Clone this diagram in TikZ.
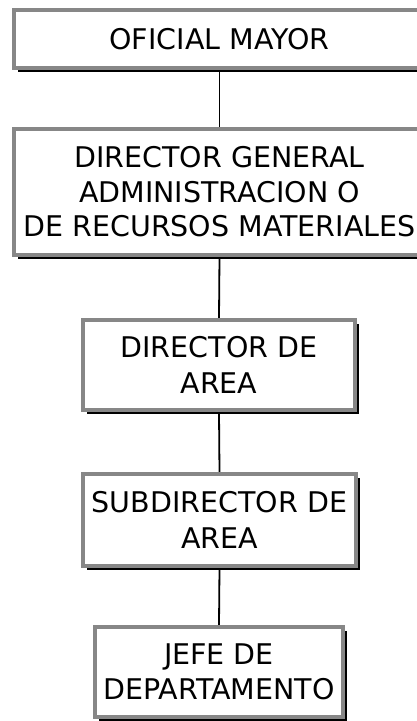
\documentclass[tikz,border=0pt]{standalone}
\usepackage{fontspec}
\setmainfont{DejaVu Sans}
\usetikzlibrary{shadows,backgrounds}
\definecolor{boxgray}{HTML}{878787}
\tikzset{
  orgbox/.style={draw=boxgray, line width=4pt, fill=white, inner sep=0pt,
    align=center, font=\fontsize{28.5}{34.5}\selectfont,
    general shadow={fill=black, shadow xshift=3.5pt, shadow yshift=-4pt}},
  link/.style={draw=black, line width=1.8pt}
}
\begin{document}
\begin{tikzpicture}[x=1pt,y=-1pt]
\useasboundingbox (0,0) rectangle (417,721);
\node[orgbox, minimum width=411pt, minimum height=58pt] (a) at (219.5,39) {OFICIAL MAYOR};
\node[orgbox, minimum width=411pt, minimum height=126pt] (b) at (219.5,192) {DIRECTOR GENERAL\\ADMINISTRACION O\\DE RECURSOS MATERIALES};
\node[orgbox, minimum width=272pt, minimum height=90pt] (c) at (219,365) {DIRECTOR DE\\[1.5pt]AREA};
\node[orgbox, minimum width=273pt, minimum height=92pt] (d) at (219.5,520) {SUBDIRECTOR DE\\[1.5pt]AREA};
\node[orgbox, minimum width=248pt, minimum height=90pt] (e) at (219,672) {JEFE DE\\[1pt]DEPARTAMENTO};
\begin{scope}[on background layer]
\draw[link] (a.south) -- (b.north);
\draw[link] (b.south) -- (c.north);
\draw[link] (c.south) -- (d.north);
\draw[link] (d.south) -- (e.north);
\end{scope}
\end{tikzpicture}
\end{document}
